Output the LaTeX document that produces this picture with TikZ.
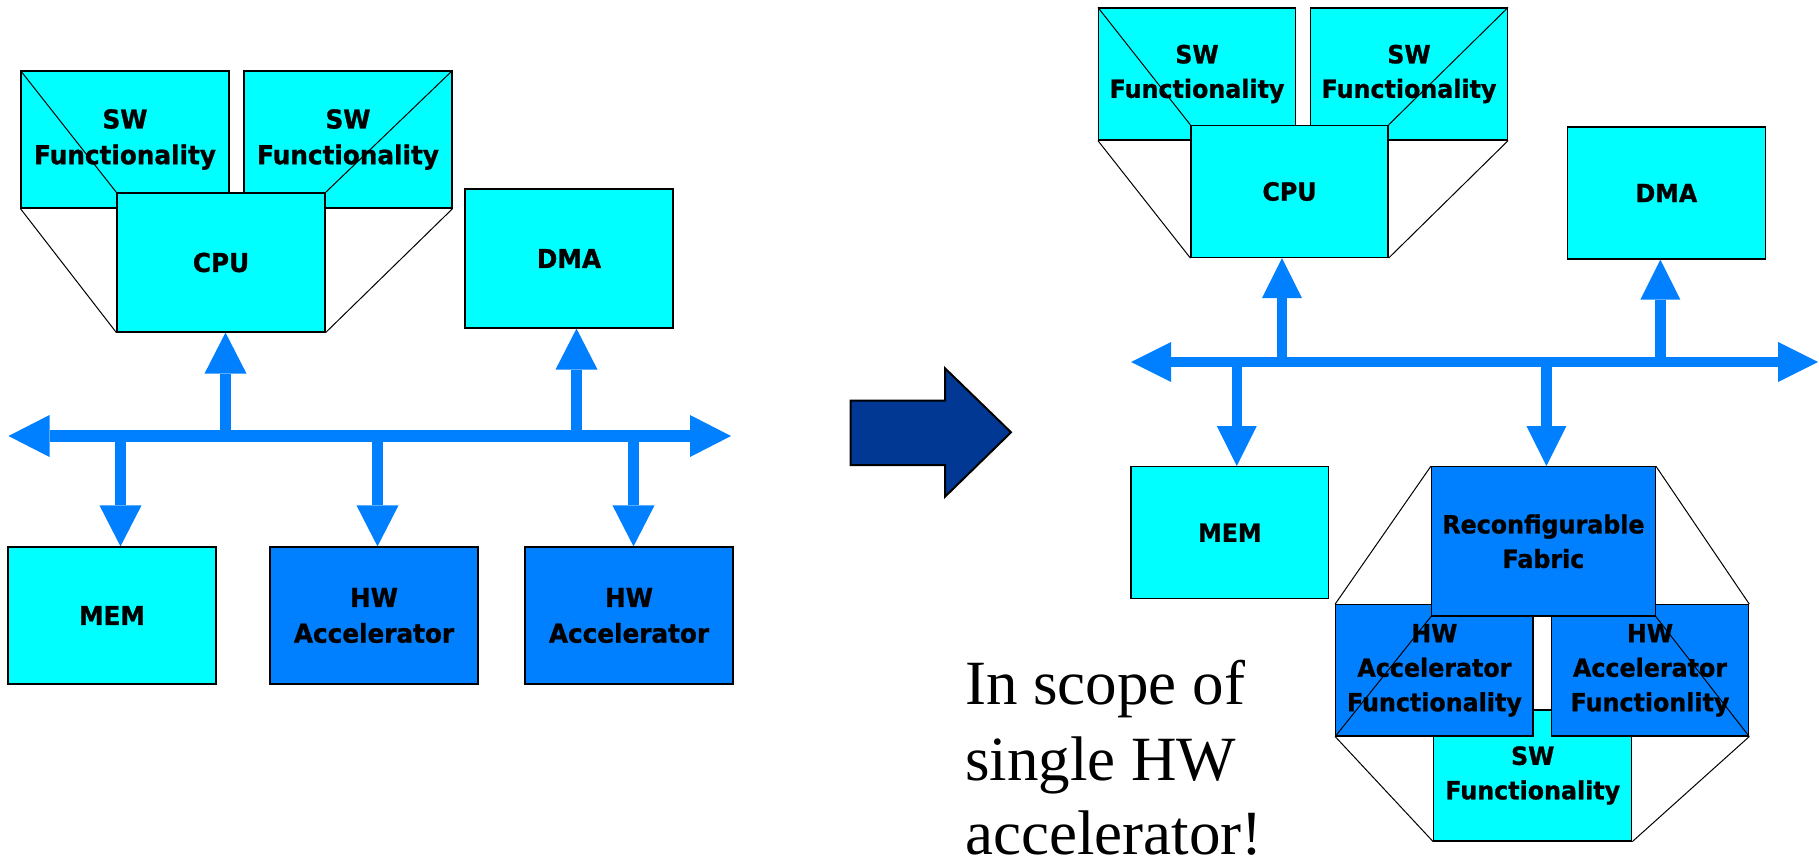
\documentclass[tikz,border=0pt]{standalone}
\usepackage{fontspec}
\setmainfont{Liberation Serif}
\newfontfamily\lab{DejaVu Sans}[FakeStretch=0.95,FakeBold=1]
\usetikzlibrary{arrows.meta}
\definecolor{cy}{RGB}{0,255,255}
\definecolor{hwblue}{RGB}{0,128,255}
\definecolor{darkarrow}{RGB}{0,56,147}
\pgfdeclarelayer{bg}
\pgfdeclarelayer{mid}
\pgfsetlayers{bg,mid,main}
\tikzset{
  BT/.tip={Triangle[length=41pt,width=42pt,line width=0pt]},
  RT/.tip={Triangle[length=40pt,width=40pt,line width=0pt]},
  box/.style={draw=black, line width=1.2pt, inner sep=0pt, align=center,
    font=\lab\bfseries\fontsize{26}{35.7}\selectfont},
  rfont/.style={font=\lab\bfseries\fontsize{25}{34.5}\selectfont},
  cbox/.style={box, fill=cy},
  bbox/.style={box, fill=hwblue},
  lsz/.style={minimum width=208pt, minimum height=137pt},
  rsz/.style={minimum width=197pt, minimum height=132pt},
  persp/.style={draw=black, line width=1pt},
  lbus/.style={draw=hwblue, line width=11.5pt},
  rbus/.style={draw=hwblue, line width=10.5pt},
  bigtxt/.style={font=\fontsize{63}{75}\selectfont, anchor=base west, inner sep=0pt}
}
\begin{document}
\begin{tikzpicture}[x=1pt,y=-1pt]
\useasboundingbox (0,0) rectangle (1819,862);

% ---------------- left figure ----------------
\begin{pgfonlayer}{bg}
\node[cbox,lsz] (swA) at (125,139.5) {SW\\Functionality};
\node[cbox,lsz] (swB) at (348,139.5) {SW\\Functionality};
\end{pgfonlayer}
\node[cbox,lsz,minimum height=139pt] (cpu) at (221,262.5) {CPU};
\node[cbox,lsz,minimum height=139pt] (dma) at (569,258.5) {DMA};
\node[cbox,lsz] (mem) at (112,615.5) {MEM};
\node[bbox,lsz] (hwA) at (374,615.5) {HW\\Accelerator};
\node[bbox,lsz] (hwB) at (629,615.5) {HW\\Accelerator};
\begin{pgfonlayer}{mid}
\draw[persp] (swA.north west) -- (cpu.north west);
\draw[persp] (swA.south west) -- (cpu.south west);
\draw[persp] (swB.north east) -- (cpu.north east);
\draw[persp] (swB.south east) -- (cpu.south east);
\end{pgfonlayer}

\coordinate (busLa) at (8.5,436);
\coordinate (busLb) at (731,436);
\draw[lbus,{BT}-{BT}] (busLa) -- (busLb);
\coordinate (cpuP) at ([xshift=4.5pt]cpu.south);
\coordinate (dmaP) at ([xshift=7.5pt]dma.south);
\coordinate (memP) at ([xshift=8.5pt]mem.north);
\coordinate (hwAP) at ([xshift=3.5pt]hwA.north);
\coordinate (hwBP) at ([xshift=4.5pt]hwB.north);
\draw[lbus,-{BT}] (cpuP |- busLa) -- (cpuP);
\draw[lbus,-{BT}] (dmaP |- busLa) -- (dmaP);
\draw[lbus,-{BT}] (memP |- busLa) -- (memP);
\draw[lbus,-{BT}] (hwAP |- busLa) -- (hwAP);
\draw[lbus,-{BT}] (hwBP |- busLa) -- (hwBP);

% ---------------- big arrow ----------------
\draw[fill=darkarrow, draw=black, line width=2pt, line join=miter]
  (850.7,400.7) -- (945,400.7) -- (945,368.3) -- (1011,432.3)
  -- (945,496.7) -- (945,465) -- (850.7,465) -- cycle;

% ---------------- right figure ----------------
\begin{pgfonlayer}{bg}
\node[cbox,rfont,rsz] (swC) at (1197,74) {SW\\Functionality};
\node[cbox,rfont,rsz] (swD) at (1409,74) {SW\\Functionality};
\node[cbox,rfont,minimum width=198pt,minimum height=131pt] (swE) at (1532.7,775.5) {SW\\Functionality};
\node[bbox,rfont,minimum width=197.3pt,minimum height=131.3pt] (hafA) at (1434.4,670.3) {HW\\Accelerator\\Functionality};
\node[bbox,rfont,minimum width=197.3pt,minimum height=131.3pt] (hafB) at (1650,670.3) {HW\\Accelerator\\Functionlity};
\end{pgfonlayer}
\node[cbox,rfont,rsz] (cpuR) at (1289.5,191.5) {CPU};
\node[cbox,rfont,minimum width=198pt,minimum height=132pt] (dmaR) at (1666.4,193) {DMA};
\node[cbox,rfont,minimum width=197.5pt,minimum height=132pt] (memR) at (1229.8,532.7) {MEM};
\node[bbox,rfont,minimum width=223.6pt,minimum height=149.3pt] (fab) at (1543.4,541.3) {Reconfigurable\\Fabric};
\begin{pgfonlayer}{mid}
\draw[persp] (swC.north west) -- (cpuR.north west);
\draw[persp] (swC.south west) -- (cpuR.south west);
\draw[persp] (swD.north east) -- (cpuR.north east);
\draw[persp] (swD.south east) -- (cpuR.south east);
\draw[persp] (fab.north west) -- (hafA.north west);
\draw[persp] (fab.south west) -- (hafA.south west);
\draw[persp] (fab.north east) -- (hafB.north east);
\draw[persp] (fab.south east) -- (hafB.south east);
\draw[persp] (hafA.south west) -- (swE.south west);
\draw[persp] (hafB.south east) -- (swE.south east);
\end{pgfonlayer}

\coordinate (busRa) at (1131,362);
\coordinate (busRb) at (1818,362);
\draw[rbus,{RT}-{RT}] (busRa) -- (busRb);
\coordinate (cpuRP) at ([xshift=-7.5pt]cpuR.south);
\coordinate (dmaRP) at ([xshift=-6pt]dmaR.south);
\coordinate (memRP) at ([xshift=7pt]memR.north);
\coordinate (fabP) at ([xshift=3pt]fab.north);
\draw[rbus,-{RT}] (cpuRP |- busRa) -- (cpuRP);
\draw[rbus,-{RT}] (dmaRP |- busRa) -- (dmaRP);
\draw[rbus,-{RT}] (memRP |- busRa) -- (memRP);
\draw[rbus,-{RT}] (fabP |- busRa) -- (fabP);

% ---------------- caption ----------------
\node[bigtxt] (capA) at (965,704.5) {In scope of};
\node[bigtxt] (capB) at (965,780) {single HW};
\node[bigtxt] (capC) at (965,854.5) {accelerator!};
\end{tikzpicture}
\end{document}
